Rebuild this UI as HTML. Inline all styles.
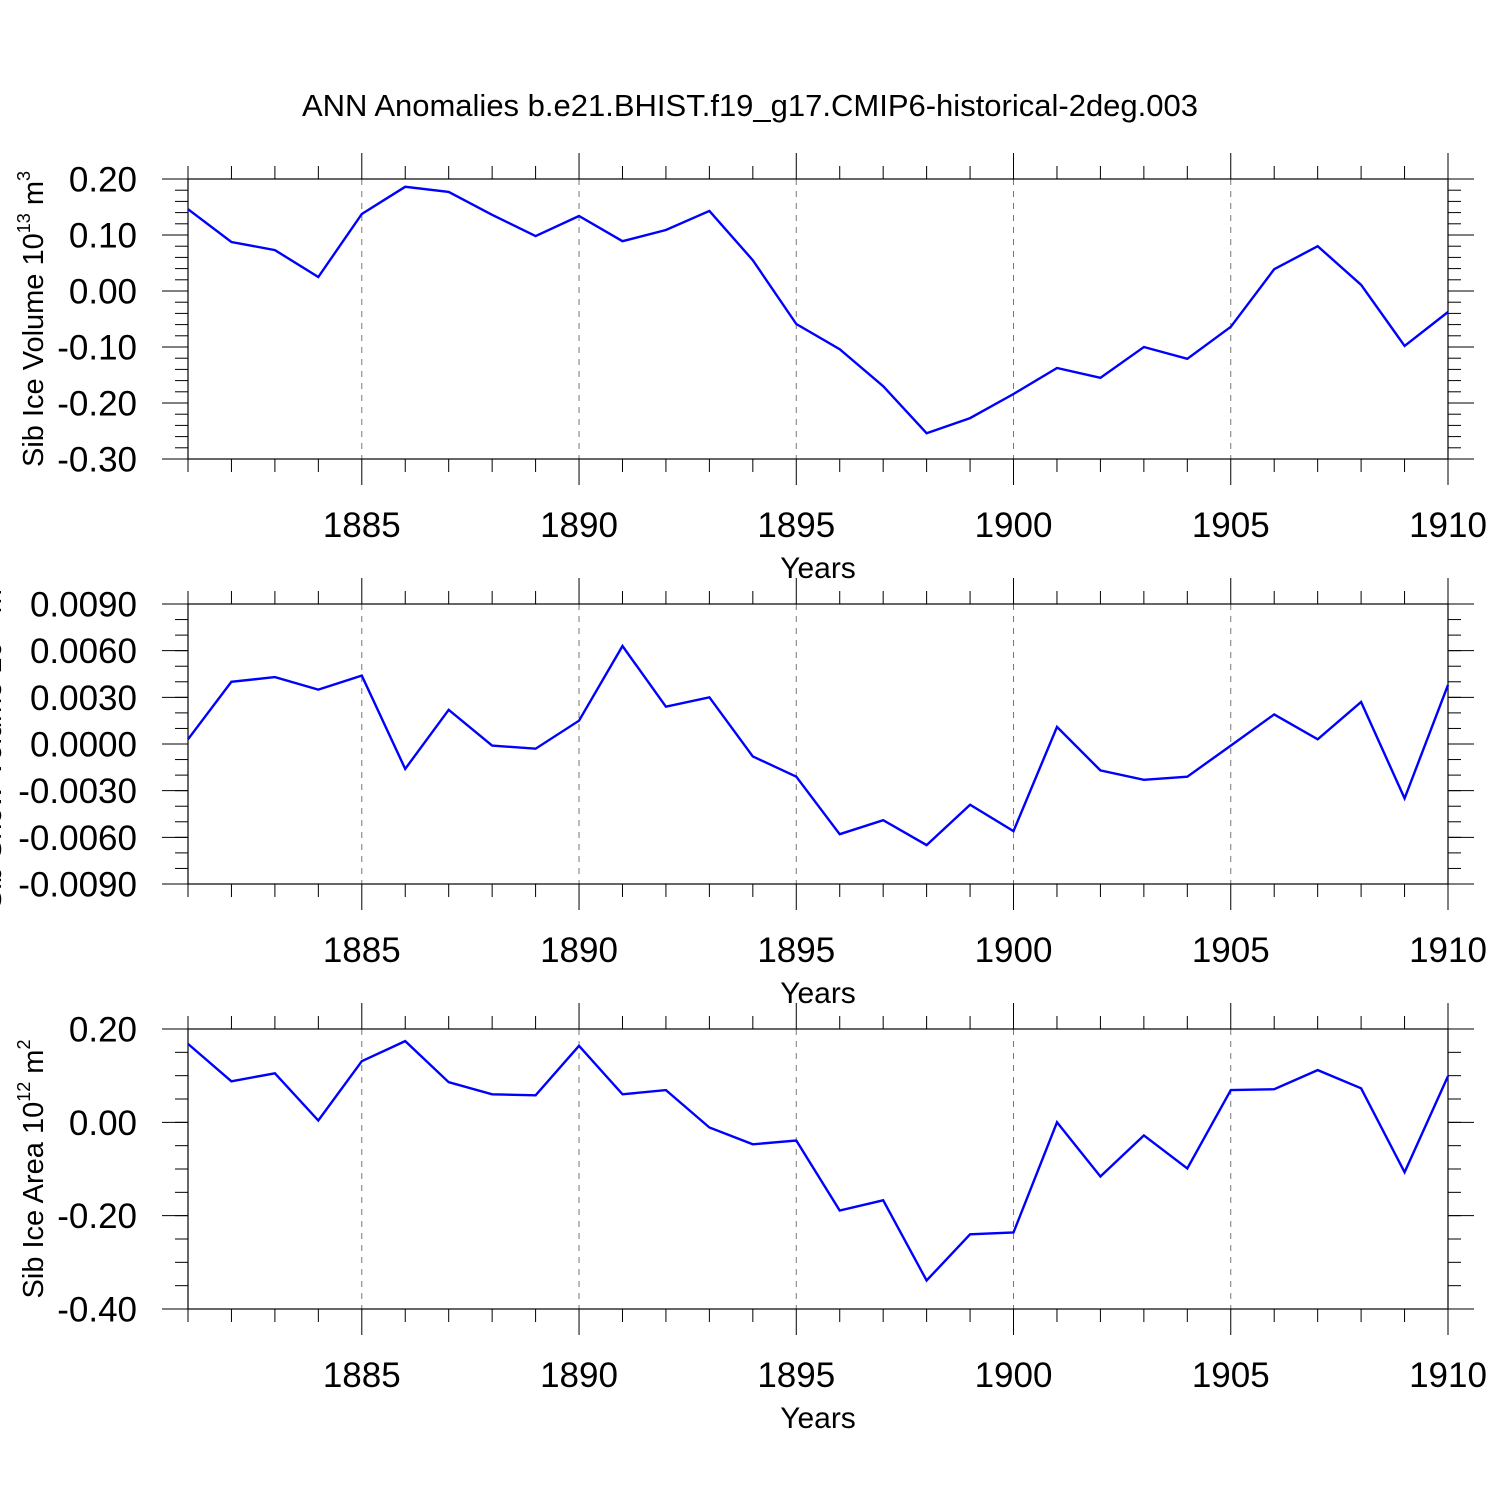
<!DOCTYPE html>
<html><head><meta charset="utf-8"><style>
html,body{margin:0;padding:0;background:#fff;}
svg{display:block;font-family:"Liberation Sans",Arial,sans-serif;}
</style></head><body>
<svg id="c" width="1500" height="1500" viewBox="0 0 1500 1500" xmlns="http://www.w3.org/2000/svg">
<text x="750" y="116" font-size="31" text-anchor="middle">ANN Anomalies b.e21.BHIST.f19_g17.CMIP6-historical-2deg.003</text>
</svg>
<script>
const years = [];
for (let y = 1881; y <= 1910; y++) years.push(y);
const xTickLabels = [1885, 1890, 1895, 1900, 1905, 1910];
const iceVolume = [0.146,0.0875,0.073,0.025,0.1375,0.186,0.177,0.136,0.098,0.134,0.089,0.109,0.143,0.055,-0.059,-0.104,-0.17,-0.254,-0.227,-0.184,-0.1375,-0.155,-0.1,-0.121,-0.064,0.039,0.08,0.011,-0.098,-0.0375];
const snowVolume = [0.0003,0.004,0.0043,0.0035,0.0044,-0.0016,0.0022,-0.0001,-0.0003,0.0015,0.0063,0.0024,0.003,-0.0008,-0.0021,-0.0058,-0.0049,-0.0065,-0.0039,-0.0056,0.0011,-0.0017,-0.0023,-0.0021,-0.0001,0.0019,0.0003,0.0027,-0.0035,0.0038];
const iceArea = [0.168,0.088,0.105,0.004,0.131,0.174,0.086,0.06,0.058,0.164,0.06,0.069,-0.011,-0.047,-0.039,-0.189,-0.167,-0.339,-0.24,-0.236,0,-0.116,-0.028,-0.099,0.069,0.071,0.112,0.073,-0.107,0.099];
const volTicks = ["0.20","0.10","0.00","-0.10","-0.20","-0.30"];
const snowTicks = ["0.0090","0.0060","0.0030","0.0000","-0.0030","-0.0060","-0.0090"];
const areaTicks = ["0.20","0.00","-0.20","-0.40"];

const NS = "http://www.w3.org/2000/svg";
const svg = document.getElementById('c');
const L = 188, R = 1448;
function mk(tag, attrs, parent) {
  const e = document.createElementNS(NS, tag);
  for (const k in attrs) e.setAttribute(k, attrs[k]);
  (parent || svg).appendChild(e);
  return e;
}
const xs = y => L + (y - 1881) * (R - L) / 29;

function panel(name, top, bot, vmax, vmin, minorStep, ticks, data, ylabel, sup, ylx) {
  const g = mk('g', {});
  
  
  const ys = v => top + (vmax - v) * (bot - top) / (vmax - vmin);
  xTickLabels.forEach(yr => {
    if (yr === 1910) return;
    const ln = mk('line', {x1: xs(yr), x2: xs(yr), y1: top, y2: bot, stroke: '#777', 'stroke-width': 1, 'stroke-dasharray': '6,6'}, g);
    
    
  });
  const fr = mk('rect', {x: L, y: top, width: R - L, height: bot - top, fill: 'none', stroke: '#000', 'stroke-width': 1.2}, g);
  
  
  years.forEach(yr => {
    const major = yr % 5 === 0;
    const len = major ? 26 : 13;
    mk('line', {x1: xs(yr), x2: xs(yr), y1: top, y2: top - len, stroke: '#000', 'stroke-width': 1}, g);
    mk('line', {x1: xs(yr), x2: xs(yr), y1: bot, y2: bot + len, stroke: '#000', 'stroke-width': 1}, g);
  });
  xTickLabels.forEach(yr => {
    const t = mk('text', {x: xs(yr), y: bot + 78, 'font-size': 35, 'text-anchor': 'middle'}, g);
    t.textContent = yr;
    
    
  });
  const xt = mk('text', {x: (L + R) / 2, y: bot + 119, 'font-size': 30, 'text-anchor': 'middle'}, g);
  xt.textContent = 'Years';
  
  
  const n = Math.round((vmax - vmin) / minorStep);
  for (let i = 0; i <= n; i++) {
    const yy = top + i * (bot - top) / n;
    mk('line', {x1: L, x2: L - 13, y1: yy, y2: yy, stroke: '#000', 'stroke-width': 1}, g);
    mk('line', {x1: R, x2: R + 13, y1: yy, y2: yy, stroke: '#000', 'stroke-width': 1}, g);
  }
  ticks.forEach(s => {
    const v = parseFloat(s);
    const yy = ys(v);
    mk('line', {x1: L, x2: L - 26, y1: yy, y2: yy, stroke: '#000', 'stroke-width': 1}, g);
    mk('line', {x1: R, x2: R + 26, y1: yy, y2: yy, stroke: '#000', 'stroke-width': 1}, g);
    const t = mk('text', {x: 137, y: yy + 12.5, 'font-size': 35, 'text-anchor': 'end'}, g);
    t.textContent = s;
    
    
  });
  const cy = (top + bot) / 2;
  const yt = mk('text', {x: ylx, y: cy, 'font-size': 29, 'text-anchor': 'middle', transform: `rotate(-90 ${ylx} ${cy})`}, g);
  yt.innerHTML = ylabel + ' 10<tspan font-size="18" dy="-13">' + sup + '</tspan><tspan dy="13"> m</tspan><tspan font-size="18" dy="-13">' + (name === 'ice-area' ? '2' : '3') + '</tspan>';
  
  
  const pts = data.map((v, i) => xs(years[i]).toFixed(1) + ',' + ys(v).toFixed(1)).join(' ');
  const pl = mk('polyline', {points: pts, fill: 'none', stroke: '#0000ff', 'stroke-width': 2.4, 'stroke-linejoin': 'miter'}, g);
  
  
}
panel('ice-volume', 179, 459, 0.2, -0.3, 0.02, volTicks, iceVolume, 'Sib Ice Volume', '13', 43);
panel('snow-volume', 604, 884, 0.009, -0.009, 0.001, snowTicks, snowVolume, 'Sib Snow Volume', '13', 1);
panel('ice-area', 1029, 1309, 0.2, -0.4, 0.05, areaTicks, iceArea, 'Sib Ice Area', '12', 43);
</script>
</body></html>
